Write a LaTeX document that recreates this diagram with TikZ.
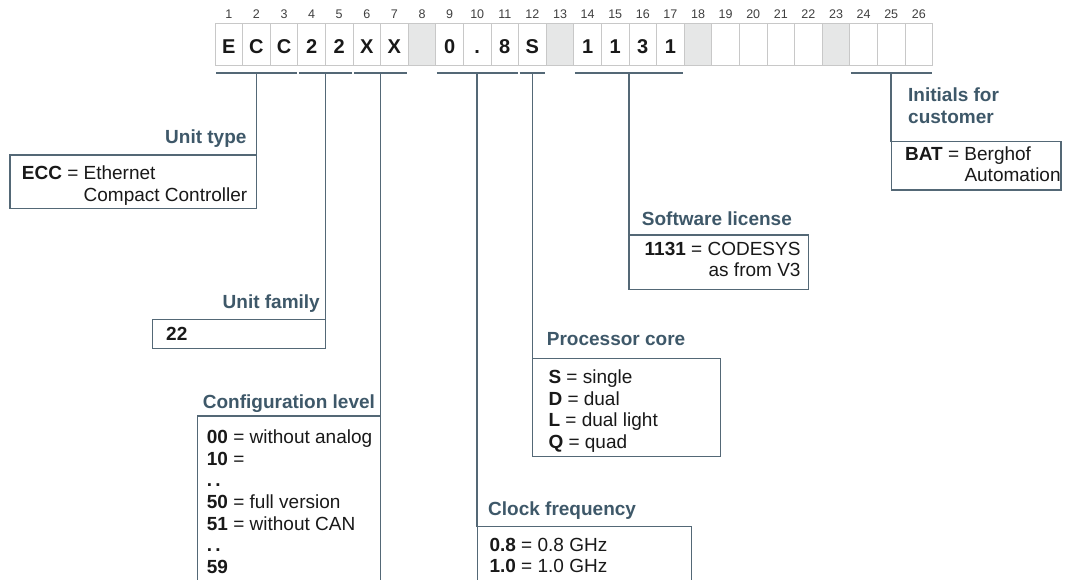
\documentclass[tikz,border=0pt]{standalone}
\usepackage{fontspec}
\setmainfont{Liberation Sans}
\usetikzlibrary{calc}
\definecolor{linec}{RGB}{84,104,118}
\definecolor{titlec}{RGB}{62,88,105}
\definecolor{cellb}{RGB}{200,200,200}
\definecolor{cellg}{RGB}{230,231,231}
\definecolor{txt}{RGB}{25,25,25}
\begin{document}
\begin{tikzpicture}[x=1pt,y=-1pt,
  cell/.style={draw=cellb, line width=0.8pt, minimum width=27.6pt, minimum height=41.7pt, inner sep=0pt,
    text height=18.2pt, text depth=0pt, font=\fontsize{20}{24}\selectfont\bfseries, text=txt},
  graycell/.style={cell, fill=cellg},
  num/.style={anchor=base, font=\fontsize{12.5}{14}\selectfont, text=black!75, inner sep=0pt},
  bracket/.style={draw=linec, line width=2pt},
  stem/.style={draw=linec, line width=1.6pt},
  infobox/.style={draw=linec, line width=1.4pt, inner sep=0pt, outer sep=0pt},
  ttl/.style={font=\fontsize{19}{21.7}\selectfont\bfseries, text=titlec, inner sep=0pt, align=left},
  body/.style={font=\fontsize{19}{21.7}\selectfont, text=txt, inner sep=0pt, align=left},
  bodyr/.style={body, align=right}]
\clip (0,0) rectangle (1070,580);
\fill[white] (0,0) rectangle (1070,580);

% cells
\foreach \i/\t/\s in {1/E/cell,2/C/cell,3/C/cell,4/2/cell,5/2/cell,6/X/cell,7/X/cell,8//graycell,
  9/0/cell,10/./cell,11/8/cell,12/S/cell,13//graycell,14/1/cell,15/1/cell,16/3/cell,17/1/cell,
  18//graycell,19//cell,20//cell,21//cell,22//cell,23//graycell,24//cell,25//cell,26//cell}
  \node[\s] (c\i) at ({215+13.8+(\i-1)*27.6}, 44.2) {\t};
\coordinate (numrow) at (0,19);
\foreach \i in {1,...,26}
  \node[num] (n\i) at (c\i.center |- numrow) {\i};

% brackets and stem tops
\foreach \a/\b/\n in {1/3/A,4/5/B,6/7/C,9/11/D,12/12/E,14/17/F,24/26/G}{
  \draw[bracket] ([shift={(1.5,8)}]c\a.south west) -- ([shift={(-1.5,8)}]c\b.south east);
  \coordinate (m\n) at ($(c\a.south west)!0.5!(c\b.south east)+(0,8)$);
}

% boxes
\coordinate (yA) at (0,155);
\coordinate (yB) at (0,319.3);
\coordinate (yC) at (0,416);
\coordinate (yD) at (0,526.7);
\coordinate (yE) at (0,358.3);
\coordinate (yF) at (0,235);
\coordinate (yG) at (0,141.7);
\node[infobox, anchor=north east, minimum width=246.4pt, minimum height=53.3pt] (typebox) at (mA |- yA) {};
\node[infobox, anchor=north east, minimum width=172.7pt, minimum height=29pt] (famlbox) at (mB |- yB) {};
\node[infobox, anchor=north east, minimum width=183.3pt, minimum height=200pt] (cfgbox) at (mC |- yC) {};
\node[infobox, anchor=north west, minimum width=214.5pt, minimum height=100pt] (clkbox) at (mD |- yD) {};
\node[infobox, anchor=north west, minimum width=188.3pt, minimum height=98.4pt] (procbox) at (mE |- yE) {};
\node[infobox, anchor=north west, minimum width=179.7pt, minimum height=54.3pt] (swbox) at (mF |- yF) {};
\node[infobox, anchor=north west, minimum width=169.9pt, minimum height=48.3pt] (initbox) at (mG |- yG) {};

% stems
\draw[stem] (mA) -- (typebox.north east);
\draw[stem] (mB) -- (famlbox.north east);
\draw[stem] (mC) -- (cfgbox.north east);
\draw[stem] (mD) -- (clkbox.north west);
\draw[stem] (mE) -- (procbox.north west);
\draw[stem] (mF) -- (swbox.north west);
\draw[stem] (mG) -- (initbox.north west);

% titles (base anchor = baseline of last line)
\node[ttl, anchor=base east] (typet) at (246.7,143.3) {Unit type};
\node[ttl, anchor=base east] (famlt) at (320,308.3) {Unit family};
\node[ttl, anchor=base west] (cfgt) at (202.7,408.3) {Configuration level};
\node[ttl, anchor=base west] (clkt) at (488,515) {Clock frequency};
\node[ttl, anchor=base west] (proct) at (546.7,345) {Processor core};
\node[ttl, anchor=base west] (swt) at (641.7,225) {Software license};
\node[ttl, anchor=base west] (initt) at (908,123.4) {Initials for\\customer};

% bodies
\node[body, anchor=base west] (typeb) at (21.7,201)
  {\textbf{ECC} = Ethernet\\\hphantom{\textbf{ECC} = }Compact Controller};
\node[body, anchor=base west] (famlb) at (166,340) {\textbf{22}};
\node[body, anchor=base west] (cfgb) at (206.7,573.5)
  {\textbf{00} = without analog\\\textbf{10} =\\\textbf{.\,.}\\\textbf{50} = full version\\\textbf{51} = without CAN\\\textbf{.\,.}\\\textbf{59}};
\node[body, anchor=base west] (clkb) at (489.3,572.7)
  {\textbf{0.8} = 0.8 GHz\\\textbf{1.0} = 1.0 GHz};
\node[body, anchor=base west] (procb) at (548.3,448.4)
  {\textbf{S} = single\\\textbf{D} = dual\\\textbf{L} = dual light\\\textbf{Q} = quad};
\node[bodyr, anchor=base east] (swb) at (800.7,276.7)
  {\textbf{1131} = CODESYS\\as from V3};
\node[body, anchor=base west] (initb) at (905,181.7)
  {\textbf{BAT} = Berghof\\\hphantom{\textbf{BAT} = }Automation};
\end{tikzpicture}
\end{document}
